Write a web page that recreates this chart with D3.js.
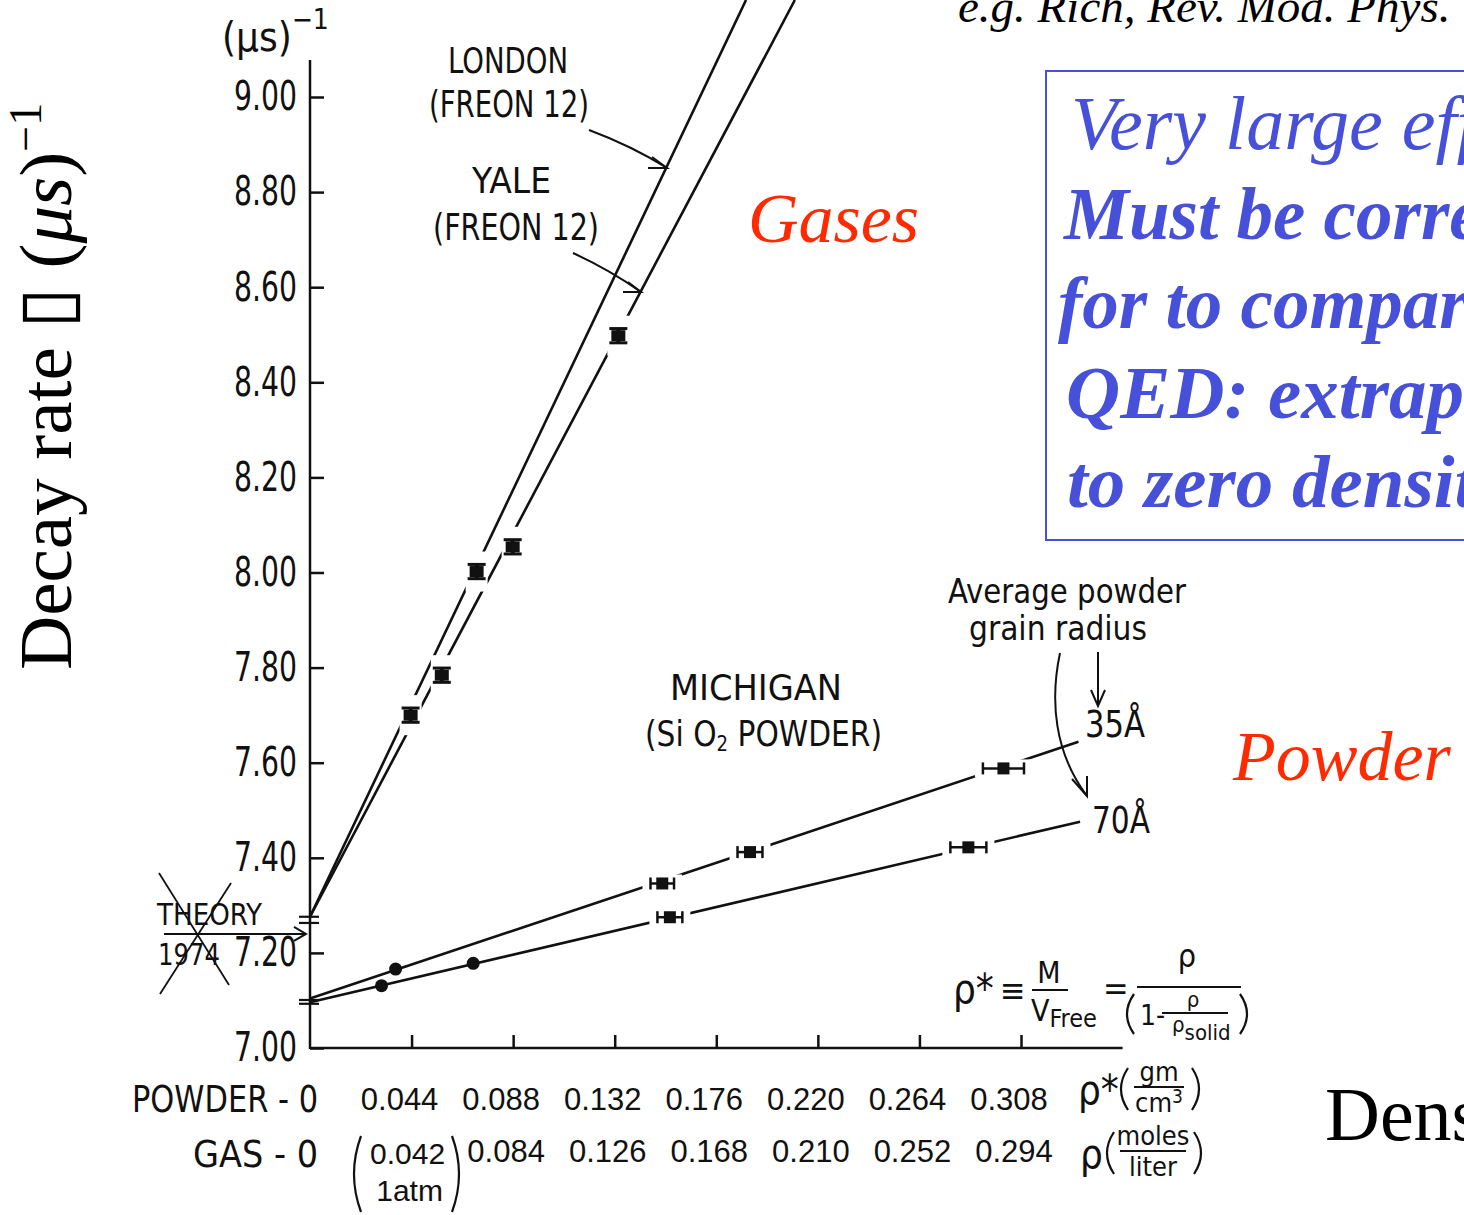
<!DOCTYPE html>
<html lang="en">
<head>
<meta charset="utf-8">
<title>Muonium decay rate vs density</title>
<script src="https://d3js.org/d3.v7.min.js"></script>
<style>
  body { margin: 0; background: #fff; }
  svg { display: block; }
  .hand { font-family: "Liberation Sans Narrow", "DejaVu Sans Condensed", "DejaVu Sans", sans-serif; fill: #111; }
  .num { font-family: "Liberation Sans", Arial, sans-serif; fill: #111; }
  .serif { font-family: "Liberation Serif", "Times New Roman", serif; }
</style>
</head>
<body>
<script>
// ---- data ----
const yTicks = [7.00, 7.20, 7.40, 7.60, 7.80, 8.00, 8.20, 8.40, 8.60, 8.80, 9.00]
const powderTicks = [0.044, 0.088, 0.132, 0.176, 0.220, 0.264, 0.308]   // rho* (gm/cm3)
const gasTicks = [0.042, 0.084, 0.126, 0.168, 0.210, 0.252, 0.294]      // rho (moles/liter)

// gases (x in moles/liter), decay rate in (us)^-1
const gasIntercept = 7.276
const gasBreak = [7.276, 7.263]
const londonEnd = [0.1803, 9.204]
const londonX = [0.0416, 0.0689]
const londonY = [7.700, 8.002]
const yaleEnd = [0.2005, 9.204]
const yaleX = [0.0545, 0.0838, 0.1275]
const yaleY = [7.784, 8.054, 8.498]
const gasErr = 0.015

// SiO2 powder (x in gm/cm3)
const powderBreak = [7.101, 7.093]
const p35Intercept = 7.104
const p35End = [0.3329, 7.644]
const p35X = [0.0371, 0.1526, 0.1906, 0.3004]
const p35Y = [7.166, 7.346, 7.412, 7.588]
const p35Err = [0, 0.0051, 0.0054, 0.0089]
const p70Intercept = 7.096
const p70End = [0.3336, 7.476]
const p70X = [0.0310, 0.0707, 0.1559, 0.2852]
const p70Y = [7.131, 7.178, 7.275, 7.422]
const p70Err = [0, 0, 0.0054, 0.0078]

const theory1974 = 7.24

const ink = "#111"
const blue = "#4650d8"
const red = "#ff2a00"

const W = 1464, H = 1215
const svg = d3.select("body").append("svg")
    .attr("width", W)
    .attr("height", H)

svg.append("rect").attr("width", W).attr("height", H).attr("fill", "#fff")

const y = d3.scaleLinear().domain([7, 9]).range([1048, 97])
const xPowder = d3.scaleLinear().domain([0, 0.308]).range([310, 1021])
const xGas = d3.scaleLinear().domain([0, 0.294]).range([310, 1021])

// ---- axes ----
const yAxis = d3.axisLeft(y)
    .tickValues(yTicks)
    .tickSizeInner(-14)
    .tickSizeOuter(0)
    .tickPadding(13)
    .tickFormat(d3.format(".2f"))

const gy = svg.append("g")
    .attr("transform", "translate(310,0)")
    .call(yAxis)
    .attr("font-family", null)
    .attr("font-size", null)
gy.select(".domain").remove()
gy.selectAll("line").attr("stroke", ink).attr("stroke-width", 2.5)
gy.selectAll("text").attr("class", "hand").attr("fill", ink).style("font-size", "40px")
    .attr("textLength", 63).attr("lengthAdjust", "spacingAndGlyphs")

svg.append("line")
    .attr("x1", 310).attr("x2", 310)
    .attr("y1", y(9.078)).attr("y2", y(7) + 1)
    .attr("stroke", ink).attr("stroke-width", 2.5)

const xAxis = d3.axisBottom(xPowder)
    .tickValues(powderTicks)
    .tickSizeInner(-13)
    .tickSizeOuter(0)
    .tickFormat("")

const gx = svg.append("g")
    .attr("transform", "translate(0," + y(7) + ")")
    .call(xAxis)
gx.select(".domain").remove()
gx.selectAll("line").attr("stroke", ink).attr("stroke-width", 2.5)

svg.append("line")
    .attr("x1", 310).attr("x2", xPowder(0.352))
    .attr("y1", y(7)).attr("y2", y(7))
    .attr("stroke", ink).attr("stroke-width", 2.5)

// axis break marks at the extrapolated intercepts
gasBreak.concat(powderBreak).forEach(function (v) {
    svg.append("line")
        .attr("x1", 299).attr("x2", 319)
        .attr("y1", y(v)).attr("y2", y(v))
        .attr("stroke", ink).attr("stroke-width", 2.2)
})

function hand(x, yy, txt, size, len, anchor) {
    const t = svg.append("text").attr("class", "hand").attr("x", x).attr("y", yy)
        .attr("text-anchor", anchor || "start").style("font-size", size + "px")
    if (len) t.attr("textLength", len).attr("lengthAdjust", "spacingAndGlyphs")
    t.text(txt)
    return t
}

function paren(x, y0, y1, dir) {
    const mid = (y0 + y1) / 2
    svg.append("path")
        .attr("d", "M" + x + "," + y0 + " Q" + (x - dir * 14) + "," + mid + " " + x + "," + y1)
        .attr("fill", "none").attr("stroke", ink).attr("stroke-width", 2.2)
}

// bottom labels
hand(318, 1112, "POWDER - 0", 38, 186, "end")
hand(318, 1167, "GAS - 0", 38, 125, "end")

svg.selectAll(".plabel").data(powderTicks).enter().append("text")
    .attr("class", "num plabel")
    .attr("x", d => xPowder(d) - 12)
    .attr("y", 1110)
    .attr("text-anchor", "middle")
    .style("font-size", "31px")
    .text(d3.format(".3f"))

svg.selectAll(".glabel").data(gasTicks.slice(1)).enter().append("text")
    .attr("class", "num glabel")
    .attr("x", d => xGas(d) - 7)
    .attr("y", 1162)
    .attr("text-anchor", "middle")
    .style("font-size", "31px")
    .text(d3.format(".3f"))

// first gas tick: (0.042 / 1atm)
svg.append("text").attr("class", "num").attr("x", xGas(gasTicks[0]) - 4).attr("y", 1164)
    .attr("text-anchor", "middle").style("font-size", "30px").text(d3.format(".3f")(gasTicks[0]))
svg.append("text").attr("class", "num").attr("x", xGas(gasTicks[0]) - 2).attr("y", 1201)
    .attr("text-anchor", "middle").style("font-size", "30px").text("1atm")
paren(361, 1136, 1212, 1)
paren(452, 1136, 1212, -1)

// units at right end of axis rows
function unitFrac(x0, base, sym, top, bottom, barW) {
    hand(x0, base, sym, 40)
    const px = x0 + (sym.length > 1 ? 50 : 34)
    paren(px, base - 36, base + 6, 1)
    const cx = px + 6 + barW / 2
    svg.append("line").attr("x1", cx - barW / 2).attr("x2", cx + barW / 2)
        .attr("y1", base - 17).attr("y2", base - 17)
        .attr("stroke", ink).attr("stroke-width", 2)
    hand(cx, base - 23, top, 27, null, "middle")
    const b = svg.append("text").attr("class", "hand").attr("x", cx).attr("y", base + 8)
        .attr("text-anchor", "middle").style("font-size", "27px")
    bottom(b)
    paren(cx + barW / 2 + 8, base - 36, base + 6, -1)
}
unitFrac(1078, 1104, "ρ*", "gm", function (t) {
    t.append("tspan").text("cm")
    t.append("tspan").attr("dy", -9).style("font-size", "19px").text("3")
}, 50)
unitFrac(1080, 1168, "ρ", "moles", function (t) { t.text("liter") }, 66)

// ---- fitted lines ----
function fitLine(xs, x0, y0, x1, y1) {
    svg.append("line")
        .attr("x1", xs(x0)).attr("y1", y(y0))
        .attr("x2", xs(x1)).attr("y2", y(y1))
        .attr("stroke", ink).attr("stroke-width", 2.6)
}
fitLine(xGas, 0, gasIntercept, londonEnd[0], londonEnd[1])
fitLine(xGas, 0, gasIntercept, yaleEnd[0], yaleEnd[1])
fitLine(xPowder, 0, p35Intercept, p35End[0], p35End[1])
fitLine(xPowder, 0, p70Intercept, p70End[0], p70End[1])

// ---- gas points: vertical error bars ----
const gasPts = londonX.map((d, i) => ({ x: d, v: londonY[i] }))
    .concat(yaleX.map((d, i) => ({ x: d, v: yaleY[i] })))

gasPts.forEach(function (p) {
    const cx = xGas(p.x), cy = y(p.v)
    const e = y(p.v - gasErr) - cy
    const g = svg.append("g").attr("transform", "translate(" + cx + "," + cy + ")")
    g.append("rect").attr("x", -11).attr("y", -20).attr("width", 22).attr("height", 40).attr("fill", "#fff")
    g.append("line").attr("x1", 0).attr("x2", 0).attr("y1", -e).attr("y2", e).attr("stroke", ink).attr("stroke-width", 4)
    g.append("line").attr("x1", -9).attr("x2", 9).attr("y1", -e).attr("y2", -e).attr("stroke", ink).attr("stroke-width", 3)
    g.append("line").attr("x1", -9).attr("x2", 9).attr("y1", e).attr("y2", e).attr("stroke", ink).attr("stroke-width", 3)
    g.append("rect").attr("x", -7).attr("y", -5.5).attr("width", 14).attr("height", 11).attr("fill", ink)
})

// ---- powder points: horizontal error bars or dots ----
const powderPts = p35X.map((d, i) => ({ x: d, v: p35Y[i], err: p35Err[i] }))
    .concat(p70X.map((d, i) => ({ x: d, v: p70Y[i], err: p70Err[i] })))

powderPts.forEach(function (p) {
    const cx = xPowder(p.x), cy = y(p.v)
    const g = svg.append("g").attr("transform", "translate(" + cx + "," + cy + ")")
    if (p.err === 0) {
        g.append("circle").attr("r", 6.5).attr("fill", ink)
        return
    }
    const e = xPowder(p.x + p.err) - cx
    g.append("rect").attr("x", -e - 8).attr("y", -9).attr("width", 2 * e + 16).attr("height", 18).attr("fill", "#fff")
    g.append("line").attr("x1", -e).attr("x2", e).attr("y1", 0).attr("y2", 0).attr("stroke", ink).attr("stroke-width", 2.5)
    g.append("line").attr("x1", -e).attr("x2", -e).attr("y1", -6).attr("y2", 6).attr("stroke", ink).attr("stroke-width", 2.5)
    g.append("line").attr("x1", e).attr("x2", e).attr("y1", -6).attr("y2", 6).attr("stroke", ink).attr("stroke-width", 2.5)
    g.append("rect").attr("x", -6).attr("y", -6).attr("width", 12).attr("height", 12).attr("fill", ink)
})

// ---- annotations ----
function arrow(d, tip, b1, b2) {
    svg.append("path").attr("d", d).attr("fill", "none").attr("stroke", ink).attr("stroke-width", 2)
    svg.append("path").attr("d", "M" + b1 + "L" + tip + "L" + b2)
        .attr("fill", "none").attr("stroke", ink).attr("stroke-width", 2)
}

// (us)^-1 unit on y axis
const uu = svg.append("text").attr("class", "hand").attr("x", 222).attr("y", 51).style("font-size", "40px")
uu.append("tspan").text("(μs)")
uu.append("tspan").attr("dy", -22).style("font-size", "28px").text("−1")

hand(448, 73, "LONDON", 36, 120)
hand(429, 117, "(FREON 12)", 38, 160)
hand(472, 193, "YALE", 36, 79)
hand(433, 240, "(FREON 12)", 38, 166)
arrow("M589,130 Q632,146 667,168", [667, 168], [648, 168], [652, 157])
arrow("M573,253 Q610,270 641,292", [641, 292], [623, 292], [628, 282])

hand(670, 700, "MICHIGAN", 36, 172)
const mi = svg.append("text").attr("class", "hand").attr("x", 645).attr("y", 746).style("font-size", "36px")
    .attr("textLength", 237).attr("lengthAdjust", "spacingAndGlyphs")
mi.append("tspan").text("(Si O")
mi.append("tspan").attr("dy", 5).style("font-size", "22px").text("2")
mi.append("tspan").attr("dy", -5).text(" POWDER)")

hand(948, 603, "Average powder", 33, 238)
hand(969, 640, "grain radius", 33, 178)
hand(1085, 737, "35Å", 38, 60)
hand(1092, 833, "70Å", 38, 58)
arrow("M1098,652 L1098,706", [1098, 706], [1091, 690], [1105, 690])
arrow("M1060,653 C1050,700 1054,752 1087,796", [1087, 796], [1072, 779], [1087, 776])

// theory 1974 (crossed out)
hand(157, 925, "THEORY", 31, 105)
hand(158, 965, "1974", 31, 62)
arrow("M164," + y(theory1974) + " L306," + y(theory1974), [306, y(theory1974)],
      [294, y(theory1974) - 7], [294, y(theory1974) + 7])
svg.append("line").attr("x1", 159).attr("y1", 873).attr("x2", 229).attr("y2", 985).attr("stroke", ink).attr("stroke-width", 1.8)
svg.append("line").attr("x1", 231).attr("y1", 883).attr("x2", 160).attr("y2", 994).attr("stroke", ink).attr("stroke-width", 1.8)

// rho* definition
hand(953, 1003, "ρ*", 40)
hand(1000, 1002, "≡", 34)
hand(1049, 983, "M", 30, null, "middle")
svg.append("line").attr("x1", 1032).attr("x2", 1068).attr("y1", 990).attr("y2", 990).attr("stroke", ink).attr("stroke-width", 2)
const vf = svg.append("text").attr("class", "hand").attr("x", 1031).attr("y", 1021).style("font-size", "30px")
vf.append("tspan").text("V")
vf.append("tspan").attr("dy", 6).style("font-size", "25px").text("Free")
hand(1103, 1000, "=", 34)
hand(1187, 967, "ρ", 32, null, "middle")
svg.append("line").attr("x1", 1137).attr("x2", 1241).attr("y1", 987).attr("y2", 987).attr("stroke", ink).attr("stroke-width", 2)
paren(1134, 994, 1034, 1)
hand(1140, 1025, "1-", 28)
hand(1193, 1007, "ρ", 22, null, "middle")
svg.append("line").attr("x1", 1162).attr("x2", 1228).attr("y1", 1013).attr("y2", 1013).attr("stroke", ink).attr("stroke-width", 1.8)
const rs = svg.append("text").attr("class", "hand").attr("x", 1172).attr("y", 1032).style("font-size", "22px")
rs.append("tspan").text("ρ")
rs.append("tspan").attr("dy", 8).style("font-size", "22px").text("solid")
paren(1240, 994, 1034, -1)

// slide overlays
svg.append("text").attr("class", "serif").attr("x", 748).attr("y", 242)
    .style("font-size", "70px").style("font-style", "italic").attr("fill", red).text("Gases")
svg.append("text").attr("class", "serif").attr("x", 1233).attr("y", 780)
    .style("font-size", "70px").style("font-style", "italic").attr("fill", red).text("Powder")
svg.append("text").attr("class", "serif").attr("x", 1325).attr("y", 1140)
    .style("font-size", "76px").attr("fill", "#000").text("Density")
svg.append("text").attr("class", "serif").attr("x", 958).attr("y", 22)
    .style("font-size", "47px").style("font-style", "italic").attr("fill", "#000")
    .text("e.g. Rich, Rev. Mod. Phys.")

svg.append("rect").attr("x", 1046).attr("y", 71).attr("width", 480).attr("height", 469)
    .attr("fill", "none").attr("stroke", blue).attr("stroke-width", 2)
const boxLines = ["Very large effect!", "Must be corrected", "for to compare with", "QED: extrapolate", "to zero density"]
const boxX = [1071, 1064, 1058, 1066, 1067]
const boxSize = [76, 73, 73, 75, 75]
const boxBold = [false, true, true, true, true]
boxLines.forEach(function (s, i) {
    svg.append("text").attr("class", "serif")
        .attr("x", boxX[i]).attr("y", 149 + i * 89.5)
        .style("font-size", boxSize[i] + "px").style("font-style", "italic")
        .style("font-weight", boxBold[i] ? "bold" : "normal")
        .attr("fill", blue).text(s)
})

// y-axis title
const yt = svg.append("text").attr("class", "serif")
    .attr("transform", "translate(71,670) rotate(-90)")
    .style("font-size", "75px").attr("fill", "#000")
yt.append("tspan").text("Decay rate ")
yt.append("tspan").style("font-family", "DejaVu Sans").text("▯")
yt.append("tspan").text(" (")
yt.append("tspan").style("font-style", "italic").text("μs")
yt.append("tspan").text(")")
yt.append("tspan").attr("dy", -30).style("font-size", "46px").text("−1")
</script>
</body>
</html>
